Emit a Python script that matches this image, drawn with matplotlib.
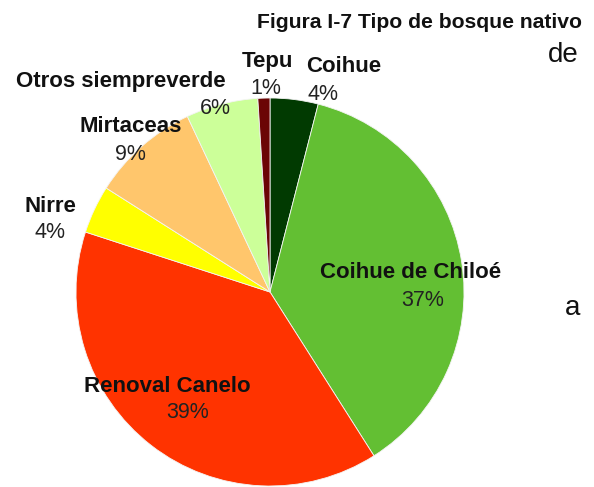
import matplotlib.pyplot as plt

# datos del gráfico
tipos = ['Coihue', 'Coihue de Chiloé', 'Renoval Canelo', 'Nirre',
         'Mirtaceas', 'Otros siempreverde', 'Tepu']
porcentajes = [4, 37, 39, 4, 9, 6, 1]
colores = ['#013a01', '#63bf33', '#ff3300', '#ffff00',
           '#ffc66c', '#ccff99', '#6b0505']

# posiciones de las etiquetas en pixeles (nombre, porcentaje)
pos_nombre = [(344, 66), (411, 273), (167, 387), (50, 206),
              (131, 127), (121, 82), (267, 62)]
pos_pct = [(323, 94), (423, 300), (188, 413), (50, 232),
           (130, 154), (215, 108), (266, 88)]

W, H = 594, 487
plt.rcParams['font.family'] = ['Liberation Sans', 'DejaVu Sans']

fig = plt.figure(figsize=(W / 100, H / 100), dpi=100)
ax = fig.add_axes([0, 0, 1, 1])

ax.pie(porcentajes, colors=colores, startangle=90, counterclock=False,
       center=(270, H - 292), radius=194,
       wedgeprops=dict(edgecolor='#f4f4f4', linewidth=0.6))
ax.set_xlim(0, W)
ax.set_ylim(0, H)
ax.set_aspect('equal')
ax.axis('off')

for nombre, pct, pn, pp in zip(tipos, porcentajes, pos_nombre, pos_pct):
    ax.text(pn[0], H - pn[1], nombre, fontsize=16, fontweight='bold',
            ha='center', va='center', color='#111111')
    ax.text(pp[0], H - pp[1], f'{pct}%', fontsize=15.5,
            ha='center', va='center', color='#222222')

# título y textos sueltos
ax.text(582, H - 22, 'Figura I-7 Tipo de bosque nativo', fontsize=15.2,
        fontweight='bold', ha='right', va='center', color='#111111')
ax.text(563, H - 55, 'de', fontsize=20, ha='center', va='center', color='#111111')
ax.text(573, H - 308, 'a', fontsize=20, ha='center', va='center', color='#111111')

fig.savefig('out.png', dpi=100)
